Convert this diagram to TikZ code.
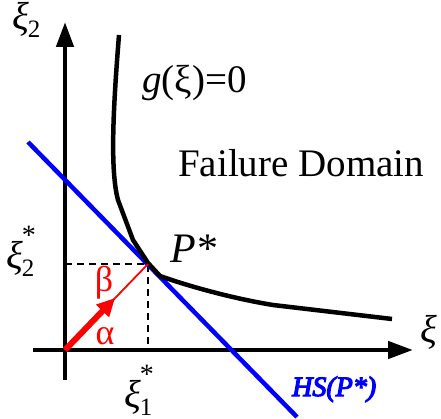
\documentclass[tikz,border=0pt]{standalone}
\usepackage{fontspec}
\setmainfont{Liberation Serif}
\newfontfamily\hsfont{Liberation Serif}[ItalicFeatures={FakeBold=4}]
\usetikzlibrary{arrows.meta}
\newcommand{\subsz}{\fontsize{25}{25}\selectfont}
\newcommand{\supsz}{\fontsize{28}{28}\selectfont}
\begin{document}
\begin{tikzpicture}[x=1pt,y=-1pt,
  axis/.style={line width=4.5pt, -{Triangle[length=25pt,width=17pt]}},
  gcurve/.style={line width=4.5pt, line join=round},
  hsline/.style={blue, line width=4.5pt},
  guide/.style={line width=1.6pt, dash pattern=on 7pt off 5pt},
  lab/.style={inner sep=0pt, font=\fontsize{39}{40}\selectfont},
  redlab/.style={inner sep=0pt, red, font=\fontsize{36}{36}\selectfont},
  ]
\useasboundingbox (0,0) rectangle (441,419);
% coordinates
\coordinate (O) at (65,350);
\coordinate (xstart) at (33,350);
\coordinate (xend) at (413,350);
\coordinate (ystart) at (65,380);
\coordinate (yend) at (65,22);
\coordinate (P) at (148,264);
\coordinate (Py) at (65,264);
\coordinate (Px) at (148,350);
\coordinate (hsA) at (28,142);
\coordinate (hsB) at (297,417);
\coordinate (redtip) at (115,298);
% dashed guides
\draw[guide] (Py) -- (P) -- (Px);
% axes
\draw[axis] (xstart) -- (xend);
\draw[axis] (ystart) -- (yend);
% hyperplane
\draw[hsline] (hsA) -- (hsB);
% limit state curve
\coordinate (g0) at (119,35);
\coordinate (g1) at (118,200);
\coordinate (g2) at (133,240);
\coordinate (g3) at (148,263);
\coordinate (g4) at (160,276);
\coordinate (g5) at (273,305);
\coordinate (g6) at (392,319);
\draw[gcurve] (g0) .. controls (113,110) and (110,170) .. (g1) -- (g2) -- (g3) -- (g4)
  .. controls (185,285) and (230,298) .. (g5) -- (g6);
% red vector
\draw[red, line width=1.8pt] (O) -- (P);
\draw[red, line width=6pt, -{Triangle[length=18pt,width=17pt]}] (O) -- (redtip);
% labels
\node[lab, anchor=base west] (xi2) at (12,30) {\textit{ξ}\kern-1pt\raisebox{-8pt}{\subsz 2}};
\node[lab, anchor=base west] (xi1) at (420,342) {\textit{ξ}};
\node[lab, anchor=base west] (xi2s) at (6,269) {\textit{ξ}\kern-1pt\rlap{\raisebox{24pt}{\supsz *}}\raisebox{-8pt}{\subsz 2}};
\node[lab, anchor=base west] (xi1s) at (124,407) {\textit{ξ}\kern-1pt\rlap{\raisebox{24pt}{\supsz *}}\raisebox{-8pt}{\subsz 1}};
\node[lab, anchor=base west] (glab) at (142,93) {\textit{g}(ξ)=0};
\node[lab, anchor=base west] (fail) at (178,177) {Failure Domain};
\node[lab, anchor=base west, font=\fontsize{42}{42}\selectfont] (plab) at (170,262) {\textit{P*}};
\node[inner sep=0pt, anchor=base west, blue, font=\fontsize{28}{28}\selectfont\hsfont\itshape] (hslab) at (292,396) {HS(P*)};
\node[redlab] (beta) at (104,283) {β};
\node[redlab] (alpha) at (105,336) {α};
\end{tikzpicture}
\end{document}
